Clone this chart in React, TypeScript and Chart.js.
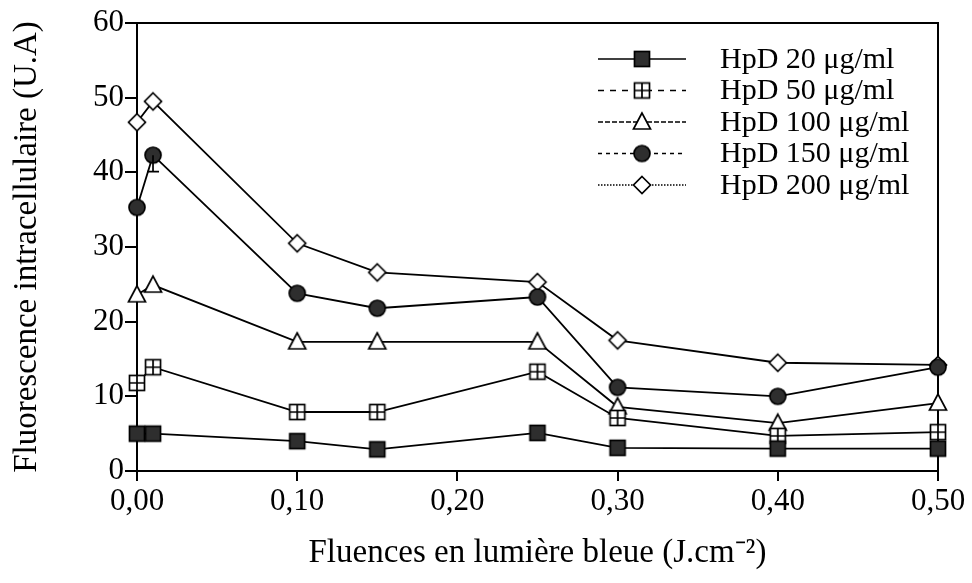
import { useEffect, useRef } from 'react';
import { Chart, registerables } from 'chart.js';

Chart.register(...registerables);

// Fluence values (J.cm-2)
const fluences = [0, 0.01, 0.1, 0.15, 0.25, 0.3, 0.4, 0.5];
// Intracellular fluorescence (U.A) per HpD concentration
const hpd20 = [5, 5, 4, 2.9, 5.1, 3.1, 3, 3];
const hpd50 = [11.8, 13.9, 7.9, 7.9, 13.3, 7.1, 4.7, 5.2];
const hpd100 = [23.6, 24.9, 17.3, 17.3, 17.3, 8.6, 6.4, 9.1];
const hpd150 = [35.3, 42.3, 23.8, 21.8, 23.3, 11.2, 10, 13.9];
const hpd200 = [46.7, 49.5, 30.5, 26.6, 25.3, 17.5, 14.5, 14.2];
// lower error bar for HpD 150 (only visible one)
const hpd150ErrLow = [0, 2.2, 0, 0, 0, 0, 0, 0];

const seriesLabels = ['HpD 20 μg/ml', 'HpD 50 μg/ml', 'HpD 100 μg/ml', 'HpD 150 μg/ml', 'HpD 200 μg/ml'];
const yTicks = [0, 10, 20, 30, 40, 50, 60];
const xTicks = [0, 0.1, 0.2, 0.3, 0.4, 0.5];

const xTitle = 'Fluences en lumière bleue (J.cm⁻²)';
const yTitle = 'Fluorescence intracellulaire (U.A)';

const FONT = '"Liberation Serif", "Times New Roman", serif';

type MarkerKind = 'sqFill' | 'sqCross' | 'tri' | 'circle' | 'diamond';
const markerKinds: MarkerKind[] = ['sqFill', 'sqCross', 'tri', 'circle', 'diamond'];
const legendDashes: number[][] = [[], [6, 6], [5, 2], [4, 4], [1.5, 1.5]];

function makeMarker(kind: MarkerKind): HTMLCanvasElement {
  const c = document.createElement('canvas');
  c.width = 22;
  c.height = 22;
  const ctx = c.getContext('2d')!;
  ctx.lineWidth = 1.7;
  ctx.strokeStyle = '#000';
  const m = 11;
  if (kind === 'sqFill') {
    ctx.fillStyle = '#2e2e2e';
    ctx.fillRect(m - 7.5, m - 7.5, 15, 15);
    ctx.strokeRect(m - 7.5, m - 7.5, 15, 15);
  } else if (kind === 'sqCross') {
    ctx.fillStyle = '#fff';
    ctx.fillRect(m - 7.5, m - 7.5, 15, 15);
    ctx.strokeRect(m - 7.5, m - 7.5, 15, 15);
    ctx.beginPath();
    ctx.moveTo(m, m - 7.5);
    ctx.lineTo(m, m + 7.5);
    ctx.moveTo(m - 7.5, m);
    ctx.lineTo(m + 7.5, m);
    ctx.stroke();
  } else if (kind === 'tri') {
    ctx.fillStyle = '#fff';
    ctx.beginPath();
    ctx.moveTo(m, m - 9);
    ctx.lineTo(m - 8.5, m + 7);
    ctx.lineTo(m + 8.5, m + 7);
    ctx.closePath();
    ctx.fill();
    ctx.stroke();
  } else if (kind === 'circle') {
    ctx.fillStyle = '#2e2e2e';
    ctx.beginPath();
    ctx.arc(m, m, 8, 0, Math.PI * 2);
    ctx.fill();
    ctx.stroke();
  } else {
    ctx.fillStyle = '#fff';
    ctx.beginPath();
    ctx.moveTo(m, m - 8.5);
    ctx.lineTo(m + 8.5, m);
    ctx.lineTo(m, m + 8.5);
    ctx.lineTo(m - 8.5, m);
    ctx.closePath();
    ctx.fill();
    ctx.stroke();
  }
  return c;
}

export default function App() {
  const ref = useRef<HTMLCanvasElement | null>(null);

  useEffect(() => {
    document.body.style.margin = '0';
    const canvas = ref.current!;
    const markers = markerKinds.map(makeMarker);
    const series = [hpd20, hpd50, hpd100, hpd150, hpd200];

    const framePlugin = {
      id: 'frame',
      beforeDatasetsDraw(chart: any) {
        const { ctx, chartArea: a } = chart;
        ctx.save();
        ctx.strokeStyle = '#000';
        ctx.lineWidth = 2;
        ctx.strokeRect(a.left, a.top, a.right - a.left, a.bottom - a.top);
        ctx.restore();
      },
      afterDatasetsDraw(chart: any) {
        const { ctx, scales } = chart;
        ctx.save();
        ctx.strokeStyle = '#000';
        ctx.lineWidth = 1.7;
        hpd150ErrLow.forEach((e, i) => {
          if (!e) return;
          const x = scales.x.getPixelForValue(fluences[i]);
          const y0 = scales.y.getPixelForValue(hpd150[i]);
          const y1 = scales.y.getPixelForValue(hpd150[i] - e);
          ctx.beginPath();
          ctx.moveTo(x, y0);
          ctx.lineTo(x, y1);
          ctx.moveTo(x - 6, y1);
          ctx.lineTo(x + 6, y1);
          ctx.stroke();
        });
        // legend
        seriesLabels.forEach((label, i) => {
          const y = 59 + i * 31.5;
          ctx.setLineDash(legendDashes[i]);
          ctx.lineWidth = 1.7;
          ctx.beginPath();
          ctx.moveTo(598, y);
          ctx.lineTo(686, y);
          ctx.stroke();
          ctx.setLineDash([]);
          const mk = markers[i];
          ctx.drawImage(mk, 642 - mk.width / 2, y - mk.height / 2);
          ctx.fillStyle = '#000';
          ctx.font = `30px ${FONT}`;
          ctx.textAlign = 'left';
          ctx.textBaseline = 'middle';
          ctx.fillText(label, 720, y + 1);
        });
        ctx.restore();
      },
    };

    const chart = new Chart(canvas, {
      type: 'line',
      data: {
        datasets: series.map((s, i) => ({
          label: seriesLabels[i],
          data: s.map((v, j) => ({ x: fluences[j], y: v })),
          borderColor: '#000',
          borderWidth: 1.8,
          pointStyle: markers[i] as any,
          pointRadius: 8,
          tension: 0,
          clip: false as any,
          fill: false,
        })),
      },
      options: {
        animation: false,
        responsive: false,
        maintainAspectRatio: false,
        layout: { padding: { top: 23, right: 34, left: 0, bottom: 0 } },
        plugins: { legend: { display: false }, tooltip: { enabled: false } },
        scales: {
          x: {
            type: 'linear',
            min: 0,
            max: 0.5,
            afterBuildTicks: (s: any) => {
              s.ticks = xTicks.map((v) => ({ value: v }));
            },
            ticks: {
              callback: (v: any) => Number(v).toFixed(2).replace('.', ','),
              font: { family: FONT, size: 31 },
              color: '#000',
              padding: 2,
              maxRotation: 0,
              autoSkip: false,
            },
            grid: { drawOnChartArea: false, drawTicks: true, tickLength: 10, color: '#000', lineWidth: 2 },
            border: { color: '#000', width: 2 },
            title: {
              display: true,
              text: xTitle,
              font: { family: FONT, size: 33 },
              color: '#000',
              padding: { top: 0, bottom: 10 },
            },
            afterFit: (s: any) => {
              s.height = 112;
            },
          },
          y: {
            type: 'linear',
            min: 0,
            max: 60,
            afterBuildTicks: (s: any) => {
              s.ticks = yTicks.map((v) => ({ value: v }));
            },
            ticks: {
              font: { family: FONT, size: 31 },
              color: '#000',
              padding: 1,
            },
            grid: { drawOnChartArea: false, drawTicks: true, tickLength: 12, color: '#000', lineWidth: 2 },
            border: { color: '#000', width: 2 },
            title: {
              display: true,
              text: yTitle,
              font: { family: FONT, size: 33 },
              color: '#000',
              padding: { top: 8, bottom: 0 },
            },
            afterFit: (s: any) => {
              s.width = 137;
            },
          },
        },
      },
      plugins: [framePlugin],
    });

    return () => chart.destroy();
  }, []);

  return (
    <div style={{ width: 972, height: 583, background: '#fff' }}>
      <canvas ref={ref} width={972} height={583} />
    </div>
  );
}
